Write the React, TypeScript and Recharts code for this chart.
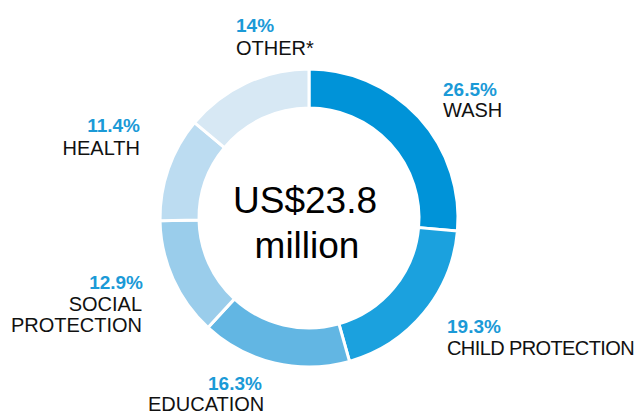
import React from "react";
import { PieChart, Pie, Cell } from "recharts";

// funding share by sector, clockwise from 12 o'clock
const sectors = ["WASH", "CHILD PROTECTION", "EDUCATION", "SOCIAL PROTECTION", "HEALTH", "OTHER*"];
const shares = [26.5, 19.3, 16.3, 12.9, 11.4, 14];
const sectorLines = [["WASH"], ["CHILD PROTECTION"], ["EDUCATION"], ["SOCIAL", "PROTECTION"], ["HEALTH"], ["OTHER*"]];
const totalLines = ["US$23.8", "million"];

const colors = ["#0093D8", "#1BA1DE", "#62B6E3", "#9ACDEB", "#BCDCF1", "#D7E8F4"];

const data = sectors.map((name, i) => ({ name, value: shares[i] }));

const CX = 301;
const CY = 210;

// where each label sits, relative to the donut centre
const labelLayout = [
  { dx: 134, pctY: -122, nameX: 134, nameY: -101, spacing: 0, anchor: "start" },
  { dx: 138, pctY: 115, nameX: 138, nameY: 137, spacing: -0.6, anchor: "start" },
  { dx: -101, pctY: 172, nameX: -161, nameY: 193, spacing: 0, anchor: "start" },
  { dx: -166, pctY: 71, nameX: -167, nameY: 93, spacing: 0, anchor: "end" },
  { dx: -169, pctY: -86, nameX: -169, nameY: -63, spacing: 0, anchor: "end" },
  { dx: -73, pctY: -186, nameX: -73, nameY: -163, spacing: 0, anchor: "start" },
];

const renderLabel = (props: any) => {
  const { index, value } = props;
  const cx = props.cx ?? CX;
  const cy = props.cy ?? CY;
  const l = labelLayout[index];
  return (
    <g key={`lbl-${index}`}>
      <text
        x={cx + l.dx}
        y={cy + l.pctY}
        textAnchor={l.anchor}
        fill="#1B9AD7"
        fontFamily="'Liberation Sans', Arial, sans-serif"
        fontWeight="bold"
        fontSize={19}
      >
        {`${value}%`}
      </text>
      {sectorLines[index].map((line, j) => (
        <text
          key={j}
          x={cx + l.nameX}
          y={cy + l.nameY + j * 21}
          textAnchor={l.anchor}
          fill="#111"
          fontFamily="'Liberation Sans', Arial, sans-serif"
          fontSize={20}
          letterSpacing={l.spacing}
        >
          {line}
        </text>
      ))}
    </g>
  );
};

export default function App() {
  return (
    <PieChart width={635} height={408} margin={{ top: 0, right: 0, bottom: 0, left: 0 }}>
      <Pie
        data={data}
        dataKey="value"
        nameKey="name"
        cx={CX}
        cy={CY}
        innerRadius={110}
        outerRadius={149}
        startAngle={90}
        endAngle={-270}
        stroke="#fff"
        strokeWidth={3}
        label={renderLabel}
        labelLine={false}
        isAnimationActive={false}
      >
        {data.map((d, i) => (
          <Cell key={d.name} fill={colors[i]} />
        ))}
      </Pie>
      <text
        x={CX - 4}
        y={CY - 5}
        textAnchor="middle"
        fill="#000"
        fontFamily="'Liberation Sans', Arial, sans-serif"
        fontSize={37}
      >
        {totalLines[0]}
      </text>
      <text
        x={CX - 2}
        y={CY + 40}
        textAnchor="middle"
        fill="#000"
        fontFamily="'Liberation Sans', Arial, sans-serif"
        fontSize={37}
      >
        {totalLines[1]}
      </text>
    </PieChart>
  );
}
